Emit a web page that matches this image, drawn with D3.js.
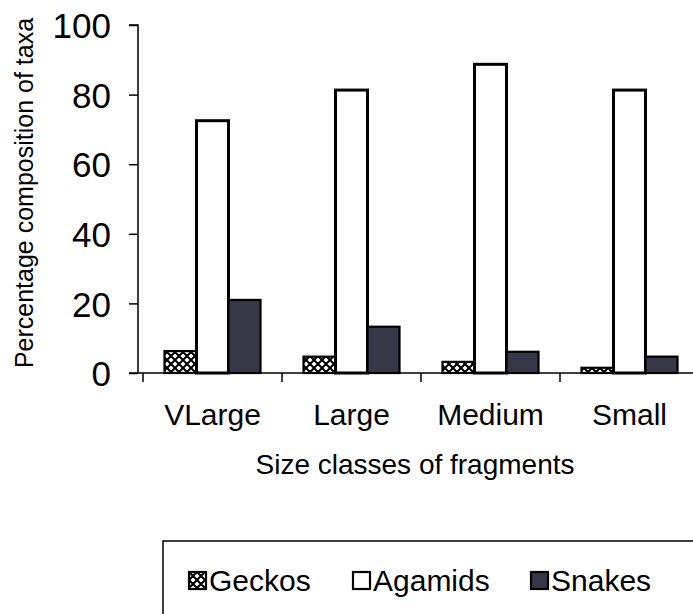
<!DOCTYPE html>
<html>
<head>
<meta charset="utf-8">
<script src="https://cdn.jsdelivr.net/npm/d3@7"></script>
<style>
  body { margin: 0; background: #fff; }
  text { font-family: Arial, "Liberation Sans", sans-serif; fill: #000; }
</style>
</head>
<body>
<svg id="chart" width="693" height="614"></svg>
<script>
const categories = ["VLarge", "Large", "Medium", "Small"];
const seriesNames = ["Geckos", "Agamids", "Snakes"];
const geckos = [6.3, 4.7, 3.2, 1.5];
const agamids = [72.5, 81.3, 88.7, 81.3];
const snakes = [21.0, 13.3, 6.1, 4.7];
const yTicks = [0, 20, 40, 60, 80, 100];

const seriesValues = { Geckos: geckos, Agamids: agamids, Snakes: snakes };
const rows = categories.map((c, i) => ({
    category: c,
    values: seriesNames.map(s => ({ series: s, value: seriesValues[s][i] }))
}));

const svg = d3.select("#chart");

// hatch pattern for geckos
const defs = svg.append("defs");
const pat = defs.append("pattern")
    .attr("id", "cross")
    .attr("patternUnits", "userSpaceOnUse")
    .attr("width", 8)
    .attr("height", 8);
pat.append("rect").attr("width", 8).attr("height", 8).attr("fill", "#fff");
pat.append("path")
    .attr("d", "M0,0 L8,8 M8,0 L0,8 M-4,4 L4,12 M4,-4 L12,4 M4,-4 L-4,4 M12,4 L4,12")
    .attr("stroke", "#000")
    .attr("stroke-width", 2);

const fills = { Geckos: "url(#cross)", Agamids: "#fff", Snakes: "#383747" };

const axisX = 138;
const y = d3.scaleLinear().domain([0, 100]).range([373, 25]);
const x0 = d3.scaleBand().domain(categories).range([143, 699]);
const x1 = d3.scaleBand().domain(seriesNames).range([21.5, 117.5]);

// y axis
const yAxis = svg.append("g")
    .attr("transform", `translate(${axisX},0)`)
    .call(d3.axisLeft(y).tickValues(yTicks).tickSize(9).tickPadding(18));
yAxis.select(".domain").attr("stroke", "#000").attr("stroke-width", 1.5)
    .attr("d", `M-9,${y(100)}H0V${y(0)}`);
yAxis.selectAll(".tick line").attr("stroke", "#000").attr("stroke-width", 1.5);
yAxis.selectAll(".tick text")
    .style("font-size", "35px")
    .attr("dy", "0.36em");

// bars
const groups = svg.append("g").selectAll("g")
    .data(rows)
    .join("g")
    .attr("transform", d => `translate(${x0(d.category)},0)`);

groups.selectAll("rect")
    .data(d => d.values)
    .join("rect")
    .attr("x", d => x1(d.series))
    .attr("y", d => y(d.value))
    .attr("width", x1.bandwidth())
    .attr("height", d => y(0) - y(d.value))
    .attr("fill", d => fills[d.series])
    .attr("stroke", "#000")
    .attr("stroke-width", d => d.series === "Agamids" ? 3 : 2.2);

// x axis
const xAxis = svg.append("g")
    .attr("transform", `translate(0,${y(0)})`);
xAxis.append("line")
    .attr("x1", axisX - 9).attr("x2", 693)
    .attr("stroke", "#000").attr("stroke-width", 1.5);
xAxis.selectAll(".cat-tick")
    .data(categories.concat(["end"]))
    .join("line")
    .attr("class", "cat-tick")
    .attr("x1", (d, i) => x0.range()[0] + i * x0.step())
    .attr("x2", (d, i) => x0.range()[0] + i * x0.step())
    .attr("y1", 0).attr("y2", 9)
    .attr("stroke", "#000").attr("stroke-width", 1.5);
xAxis.selectAll(".cat-label")
    .data(categories)
    .join("text")
    .attr("class", "cat-label")
    .attr("x", d => x0(d) + x0.bandwidth() / 2)
    .attr("y", 52)
    .attr("text-anchor", "middle")
    .style("font-size", "30px")
    .text(d => d);

// axis titles
svg.append("text")
    .attr("x", 415).attr("y", 474)
    .attr("text-anchor", "middle")
    .style("font-size", "28px")
    .text("Size classes of fragments");

svg.append("text")
    .attr("transform", "translate(33,193) rotate(-90)")
    .attr("text-anchor", "middle")
    .style("font-size", "25px")
    .text("Percentage composition of taxa");

// legend
const legend = svg.append("g");
legend.append("rect")
    .attr("x", 163).attr("y", 541)
    .attr("width", 560).attr("height", 100)
    .attr("fill", "none").attr("stroke", "#000").attr("stroke-width", 1.5);

const legendX = d3.scaleOrdinal().domain(seriesNames).range([189, 353, 531]);
const items = legend.selectAll(".item")
    .data(seriesNames)
    .join("g")
    .attr("class", "item")
    .attr("transform", d => `translate(${legendX(d)},572)`);
items.append("rect")
    .attr("width", 17).attr("height", 17)
    .attr("fill", d => fills[d])
    .attr("stroke", "#000").attr("stroke-width", 2.2);
items.append("text")
    .attr("x", 20).attr("y", 19)
    .style("font-size", "30px")
    .text(d => d);
</script>
</body>
</html>
